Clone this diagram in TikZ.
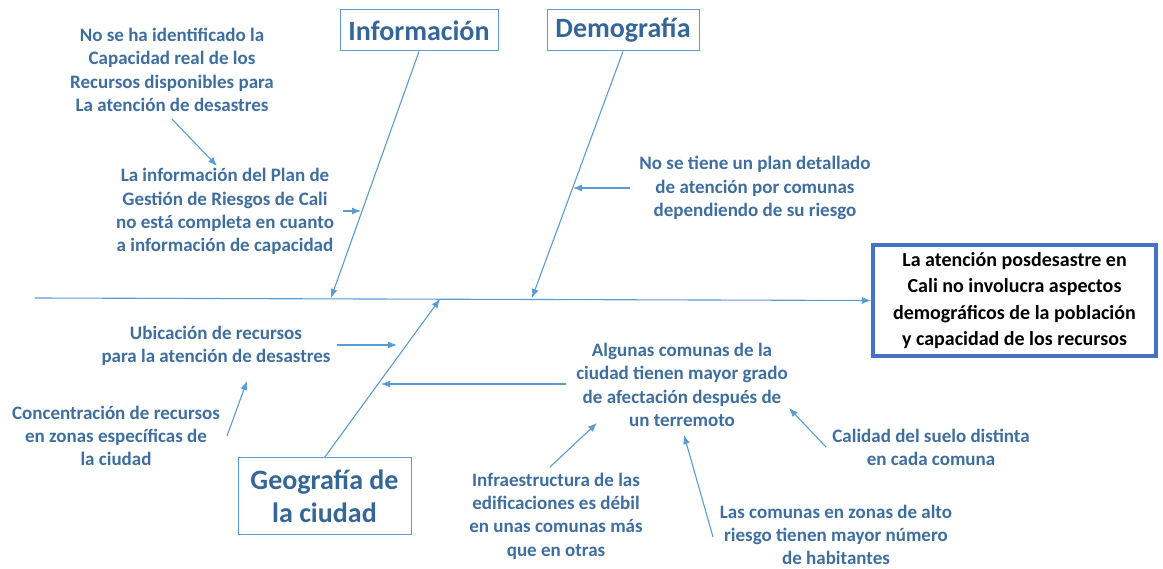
\documentclass[tikz,border=0pt]{standalone}
\usepackage{fontspec}
\setmainfont{Carlito}
\usetikzlibrary{arrows.meta}

\definecolor{bone}{RGB}{91,155,213}
\definecolor{labeltxt}{RGB}{62,110,160}
\definecolor{headtxt}{RGB}{52,102,152}
\definecolor{effectline}{RGB}{68,114,196}

\begin{document}
\begin{tikzpicture}[>={Latex[length=9pt,width=7pt]},x=1pt,y=-1pt,
	cause/.style={font=\bfseries\fontsize{19}{23.3}\selectfont,text=labeltxt,align=center,inner sep=0pt},
	category/.style={draw=bone,line width=1pt,font=\bfseries\fontsize{28}{33}\selectfont,text=headtxt,align=center,inner sep=0pt},
	arr/.style={->,draw=bone,line width=1.1pt}]

\useasboundingbox (0,0) rectangle (1163,569);

% effect
\node[draw=effectline,line width=4pt,minimum width=283pt,minimum height=111pt,
	font=\bfseries\fontsize{20}{26.3}\selectfont,align=center,inner sep=0pt] (effect) at (1014.5,300.5)
	{La atención posdesastre en\\ Cali no involucra aspectos\\demográficos de la población\\y capacidad de los recursos};

% categories
\node[category,minimum width=158pt,minimum height=41pt] (info) at (419,30.5) {Información};
\node[category,minimum width=152pt,minimum height=41pt] (demo) at (623,30.5) {Demografía};
\node[category,minimum width=173pt,minimum height=76pt] (geo) at (324.5,496) {Geografía de\\la ciudad};

% spine and bones
\coordinate (spineL) at (35,298);
\coordinate (infoEnd) at (331,298);
\coordinate (demoEnd) at (532,298);
\coordinate (geoEnd) at (440,299);
\draw[arr] (spineL) -- (effect.west);
\draw[arr] (info.south) -- (infoEnd);
\draw[arr] (demo.south) -- (demoEnd);
\draw[arr] (geo.north) -- (geoEnd);

% causes
\node[cause] (capac) at (172,70) {No se ha identificado la\\Capacidad real de los\\Recursos disponibles para\\La atención de desastres};
\node[cause] (plan) at (225,211.5) {La información del Plan de\\Gestión de Riesgos de Cali\\no está completa en cuanto\\a información de capacidad};
\node[cause] (comunas) at (755,188) {No se tiene un plan detallado\\de atención por comunas\\dependiendo de su riesgo};
\node[cause] (ubic) at (216,345.5) {Ubicación de recursos\\para la atención de desastres};
\node[cause] (conc) at (116,436) {Concentración de recursos\\en zonas específicas de\\la ciudad};
\node[cause] (afect) at (682,385) {Algunas comunas de la\\ciudad tienen mayor grado\\de afectación después de\\un terremoto};
\node[cause] (infra) at (556,516) {Infraestructura de las\\edificaciones es débil\\en unas comunas más\\que en otras};
\node[cause] (habit) at (836,535) {Las comunas en zonas de alto\\riesgo tienen mayor número\\de habitantes};
\node[cause] (suelo) at (931,447.5) {Calidad del suelo distinta\\en cada comuna};

% arrow ends
\coordinate (capacT) at (172,119);  \coordinate (capacH) at (217,166);
\coordinate (planT) at (343,211);   \coordinate (planH) at (361,211);
\coordinate (comT) at (630,188);    \coordinate (comH) at (573,188);
\coordinate (ubicT) at (337,345);   \coordinate (ubicH) at (397,345);
\coordinate (concT) at (227,436);   \coordinate (concH) at (247,381);
\coordinate (afectT) at (566,384);  \coordinate (afectH) at (381,384);
\coordinate (infraT) at (550,467);  \coordinate (infraH) at (597,423);
\coordinate (habitT) at (713,537);  \coordinate (habitH) at (684,435);
\coordinate (sueloT) at (826,447);  \coordinate (sueloH) at (789,408);

\foreach \t/\h in {capacT/capacH,planT/planH,comT/comH,ubicT/ubicH,concT/concH,
	afectT/afectH,infraT/infraH,habitT/habitH,sueloT/sueloH}{
	\draw[arr] (\t) -- (\h);
}

\end{tikzpicture}
\end{document}
